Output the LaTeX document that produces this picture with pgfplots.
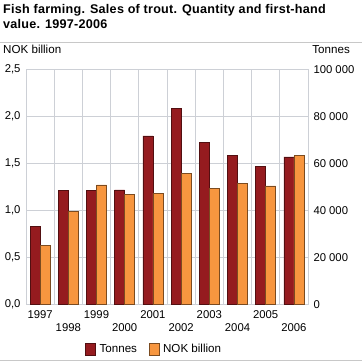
\documentclass[border=0pt]{standalone}
\usepackage{fontspec}
\setmainfont{Liberation Sans}
\newfontfamily\titlefont[LetterSpace=2]{Liberation Sans}
\usepackage{pgfplots}
\usepackage{pgfplotstable}
\pgfplotsset{compat=1.18}
\definecolor{tred}{HTML}{951B1F}
\definecolor{torange}{HTML}{F7963F}
\definecolor{gridc}{HTML}{CDD0D6}
\definecolor{linec}{HTML}{C8C8C8}

\pgfplotstableread{
x t nok
0 33000 0.63
1 48300 0.99
2 48400 1.27
3 48700 1.17
4 71700 1.18
5 83500 1.39
6 68900 1.23
7 63400 1.29
8 58800 1.26
9 62700 1.58
}\data

\begin{document}
\begin{tikzpicture}[x=1pt,y=1pt]
\path[use as bounding box] (0,0) rectangle (362,363);
\node[anchor=north west, align=left, font=\titlefont\fontsize{12.6}{15.6}\selectfont\bfseries, inner sep=0pt] at (3,359) {Fish farming. Sales of trout. Quantity and first-hand\\value. 1997-2006};
\draw[linec, line width=1pt] (0,320.3) -- (362,320.3);
\node[anchor=base west, inner sep=0pt, font=\fontsize{11.6}{13}\selectfont] at (3,309) {NOK billion};
\node[anchor=base east, inner sep=0pt, font=\fontsize{11.6}{13}\selectfont] at (350,309) {Tonnes};

\begin{axis}[
  at={(26pt,58.7pt)}, anchor=south west,
  scale only axis, width=282pt, height=235pt,
  xmin=-0.5, xmax=9.5, ymin=0, ymax=2.5,
  ybar=0pt, bar width=10pt,
  axis line style={gridc},
  ymajorgrids, xminorgrids,
  grid style={gridc, line width=0.8pt},
  minor grid style={gridc, line width=0.8pt},
  major tick length=0pt, minor tick length=0pt,
  xtick={0,2,4,6,8}, xticklabels={1997,1999,2001,2003,2005},
  extra x ticks={1,3,5,7,9}, extra x tick labels={1998,2000,2002,2004,2006},
  extra x tick style={tick label style={yshift=-12.7pt}},
  minor xtick={0.5,1.5,...,8.5},
  xticklabel style={anchor=north, inner sep=0pt, yshift=-6.4pt},
  ytick={0,0.5,...,2.5},
  yticklabel style={inner sep=0pt, xshift=-5.3pt},
  /pgf/number format/.cd, fixed, fixed zerofill, precision=1, use comma, assume math mode=true,
  /pgfplots/.cd,
  tick label style={font=\fontsize{11.3}{13}\selectfont},
  legend style={at={(0.455,-0.192)}, anchor=center, draw=none, fill=none, inner sep=0pt,
    legend columns=2, font=\fontsize{11.6}{13}\selectfont,
    /tikz/every odd column/.append style={column sep=1.5pt},
    /tikz/every even column/.append style={column sep=10pt}},
  legend image code/.code={\draw[#1] (0pt,-6pt) rectangle (10pt,6pt);},
  clip=false,
]
\addplot[fill=tred, draw=tred!55!black, line width=0.6pt] table[x=x, y expr=\thisrow{t}/40000] {\data};
\addlegendentry{Tonnes}
\addplot[fill=torange, draw=torange!50!black, line width=0.6pt] table[x=x, y=nok] {\data};
\addlegendentry{NOK billion}
\end{axis}

\begin{axis}[
  at={(26pt,58.7pt)}, anchor=south west,
  scale only axis, width=282pt, height=235pt,
  xmin=-0.5, xmax=9.5, ymin=0, ymax=100000,
  axis x line=none, axis y line*=right,
  axis line style={gridc},
  major tick length=0pt,
  scaled y ticks=false,
  ytick={0,20000,...,100000},
  yticklabel style={anchor=west, inner sep=0pt, xshift=5.3pt},
  /pgf/number format/.cd, fixed, 1000 sep={\ }, assume math mode=true,
  /pgfplots/.cd,
  tick label style={font=\fontsize{11.3}{13}\selectfont},
]
\end{axis}
\draw[linec, line width=1pt] (0,2.3) -- (362,2.3);
\end{tikzpicture}
\end{document}
